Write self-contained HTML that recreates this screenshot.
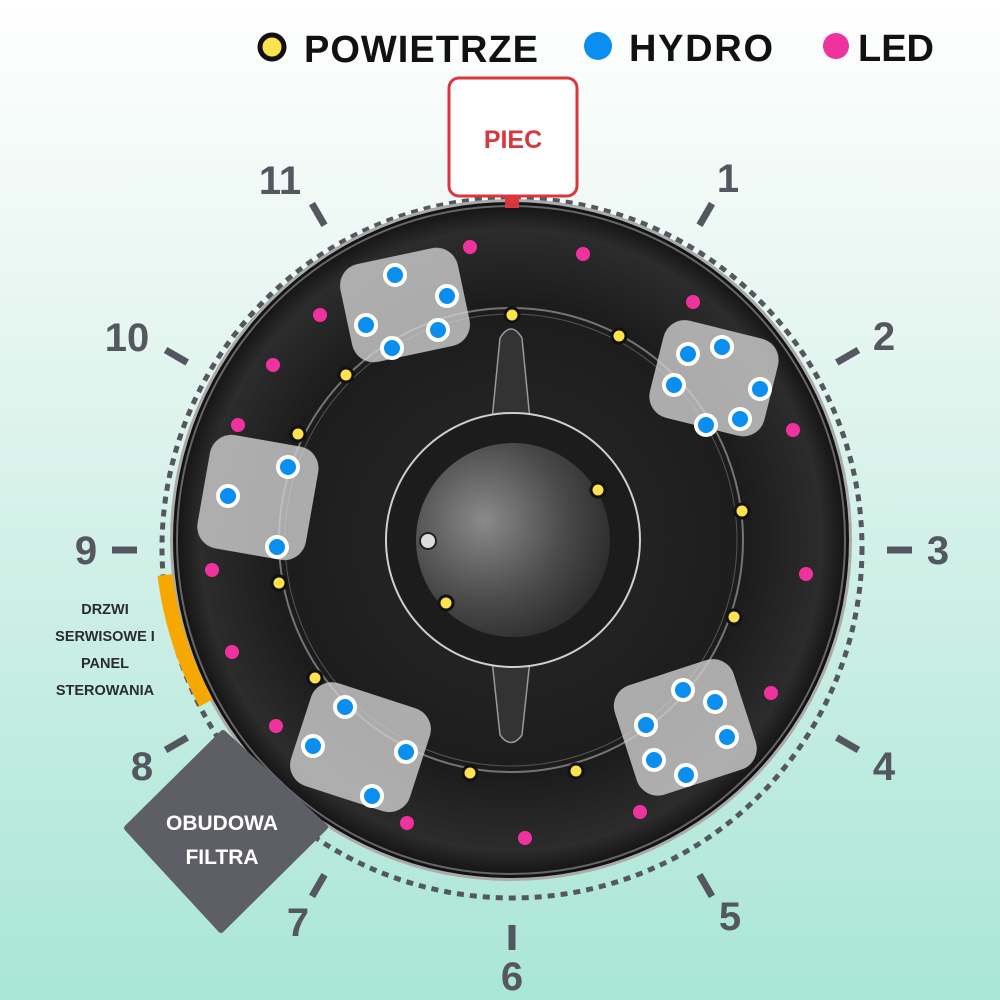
<!DOCTYPE html>
<html><head><meta charset="utf-8"><style>
html,body{margin:0;padding:0}
body{width:1000px;height:1000px;overflow:hidden;background:linear-gradient(#ffffff 0%,#e8f6f1 30%,#a9e6d6 100%);font-family:"Liberation Sans",sans-serif}
</style></head><body>
<svg width="1000" height="1000" viewBox="0 0 1000 1000" xmlns="http://www.w3.org/2000/svg" style="position:absolute;left:0;top:0">
<defs>
<radialGradient id="tub" cx="50%" cy="50%" r="50%">
<stop offset="0" stop-color="#2a2a2a"/><stop offset="0.7" stop-color="#1c1c1c"/><stop offset="0.92" stop-color="#2c2c2c"/><stop offset="1" stop-color="#111"/>
</radialGradient>
<radialGradient id="hub" cx="35%" cy="40%" r="70%">
<stop offset="0" stop-color="#8a8a8a"/><stop offset="0.6" stop-color="#4a4a4a"/><stop offset="1" stop-color="#2a2a2a"/>
</radialGradient>
</defs>
<circle cx="512" cy="548" r="350" fill="none" stroke="#555760" stroke-width="5" stroke-dasharray="7 6"/>
<circle cx="511" cy="540" r="341" fill="#aaa"/>
<circle cx="511" cy="540" r="338" fill="url(#tub)"/>
<circle cx="511" cy="540" r="334" fill="none" stroke="#666" stroke-width="2"/>
<circle cx="511" cy="540" r="232" fill="none" stroke="#9a9a9a" stroke-width="2" opacity="0.7"/>
<circle cx="511" cy="540" r="226" fill="none" stroke="#555" stroke-width="1"/>
<path d="M500 338 Q511 320 522 338 L530 420 L492 420 Z" fill="#333" stroke="#999" stroke-width="1.5"/>
<path d="M492 660 L530 660 L522 735 Q511 750 500 735 Z" fill="#333" stroke="#999" stroke-width="1.5"/>
<circle cx="513" cy="540" r="127" fill="#1c1c1c" stroke="#cfcfcf" stroke-width="2"/>
<circle cx="513" cy="540" r="97" fill="url(#hub)"/>
<circle cx="428" cy="541" r="8" fill="#ddd" stroke="#222" stroke-width="2"/>
<g fill="#d0d0d0" opacity="0.8">
<rect x="345" y="255" width="120" height="100" rx="22" transform="rotate(-12 405 305)"/>
<rect x="655" y="328" width="118" height="100" rx="22" transform="rotate(14 713 378)"/>
<rect x="203" y="440" width="110" height="115" rx="22" transform="rotate(10 258 497)"/>
<rect x="298" y="693" width="125" height="108" rx="22" transform="rotate(18 360 747)"/>
<rect x="623" y="670" width="125" height="115" rx="22" transform="rotate(-18 685 728)"/>
</g>
<g fill="#0a8ef0" stroke="#fff" stroke-width="4">
<circle cx="395" cy="275" r="10"/><circle cx="447" cy="296" r="10"/><circle cx="366" cy="325" r="10"/><circle cx="438" cy="330" r="10"/><circle cx="392" cy="348" r="10"/>
<circle cx="688" cy="354" r="10"/><circle cx="722" cy="347" r="10"/><circle cx="674" cy="385" r="10"/><circle cx="760" cy="389" r="10"/><circle cx="706" cy="425" r="10"/><circle cx="740" cy="419" r="10"/>
<circle cx="288" cy="467" r="10"/><circle cx="228" cy="496" r="10"/><circle cx="277" cy="547" r="10"/>
<circle cx="345" cy="707" r="10"/><circle cx="313" cy="746" r="10"/><circle cx="406" cy="752" r="10"/><circle cx="372" cy="796" r="10"/>
<circle cx="683" cy="690" r="10"/><circle cx="715" cy="702" r="10"/><circle cx="646" cy="725" r="10"/><circle cx="727" cy="737" r="10"/><circle cx="654" cy="760" r="10"/><circle cx="686" cy="775" r="10"/>
</g>
<g fill="#f0329e">
<circle cx="470" cy="247" r="7"/><circle cx="583" cy="254" r="7"/><circle cx="693" cy="302" r="7"/><circle cx="320" cy="315" r="7"/><circle cx="273" cy="365" r="7"/><circle cx="238" cy="425" r="7"/><circle cx="793" cy="430" r="7"/><circle cx="212" cy="570" r="7"/><circle cx="806" cy="574" r="7"/><circle cx="232" cy="652" r="7"/><circle cx="771" cy="693" r="7"/><circle cx="276" cy="726" r="7"/><circle cx="640" cy="812" r="7"/><circle cx="407" cy="823" r="7"/><circle cx="525" cy="838" r="7"/>
</g>
<g fill="#fde24f" stroke="#111" stroke-width="3">
<circle cx="512" cy="315" r="7"/><circle cx="619" cy="336" r="7"/><circle cx="346" cy="375" r="7"/><circle cx="298" cy="434" r="7"/><circle cx="598" cy="490" r="7"/><circle cx="742" cy="511" r="7"/><circle cx="279" cy="583" r="7"/><circle cx="446" cy="603" r="7"/><circle cx="734" cy="617" r="7"/><circle cx="315" cy="678" r="7"/><circle cx="470" cy="773" r="7"/><circle cx="576" cy="771" r="7"/>
</g>
<g stroke="#555760" stroke-width="7">
<line x1="512" y1="175" x2="512" y2="150" transform="rotate(30 512 550)"/>
<line x1="512" y1="175" x2="512" y2="150" transform="rotate(60 512 550)"/>
<line x1="512" y1="175" x2="512" y2="150" transform="rotate(90 512 550)"/>
<line x1="512" y1="175" x2="512" y2="150" transform="rotate(120 512 550)"/>
<line x1="512" y1="175" x2="512" y2="150" transform="rotate(150 512 550)"/>
<line x1="512" y1="175" x2="512" y2="150" transform="rotate(180 512 550)"/>
<line x1="512" y1="175" x2="512" y2="150" transform="rotate(210 512 550)"/>
<line x1="512" y1="175" x2="512" y2="150" transform="rotate(240 512 550)"/>
<line x1="512" y1="175" x2="512" y2="150" transform="rotate(270 512 550)"/>
<line x1="512" y1="175" x2="512" y2="150" transform="rotate(300 512 550)"/>
<line x1="512" y1="175" x2="512" y2="150" transform="rotate(330 512 550)"/>
</g>
<g fill="#555760" font-family="Liberation Sans, sans-serif" font-weight="bold" font-size="40" text-anchor="middle">
<text x="728" y="192">1</text><text x="884" y="350">2</text><text x="938" y="564">3</text><text x="884" y="780">4</text><text x="730" y="930">5</text><text x="512" y="990">6</text><text x="298" y="936">7</text><text x="142" y="780">8</text><text x="86" y="564">9</text><text x="127" y="351">10</text><text x="280" y="194">11</text>
</g>
<path d="M165 575 A360 360 0 0 0 206 703" fill="none" stroke="#f6a800" stroke-width="15"/>
<polygon points="223,733 325,827 221,930 127,828" fill="#5d5e66" stroke="#5d5e66" stroke-width="6" stroke-linejoin="round"/>
<g fill="#fff" font-family="Liberation Sans, sans-serif" font-weight="bold" font-size="21" text-anchor="middle">
<text x="222" y="830">OBUDOWA</text><text x="222" y="864">FILTRA</text>
</g>
<g fill="#2b2b30" font-family="Liberation Sans, sans-serif" font-weight="bold" font-size="14.5" text-anchor="middle">
<text x="105" y="614">DRZWI</text><text x="105" y="641">SERWISOWE I</text><text x="105" y="668">PANEL</text><text x="105" y="695">STEROWANIA</text>
</g>
<rect x="449" y="78" width="128" height="118" rx="10" fill="#fff" stroke="#d9363e" stroke-width="3"/>
<text x="513" y="148" fill="#d9363e" font-family="Liberation Sans, sans-serif" font-weight="bold" font-size="25" text-anchor="middle">PIEC</text>
<rect x="505" y="197" width="14" height="11" fill="#d9363e"/>
<circle cx="272" cy="47" r="12" fill="#fde24f" stroke="#111" stroke-width="5"/>
<circle cx="598" cy="46" r="14" fill="#0a8ef0"/>
<circle cx="836" cy="46" r="13" fill="#f0329e"/>
<g fill="#111" font-family="Liberation Sans, sans-serif" font-weight="bold" font-size="38">
<text x="304" y="62" textLength="234">POWIETRZE</text><text x="629" y="61" textLength="144">HYDRO</text><text x="858" y="61">LED</text>
</g>
</svg>
</body></html>
